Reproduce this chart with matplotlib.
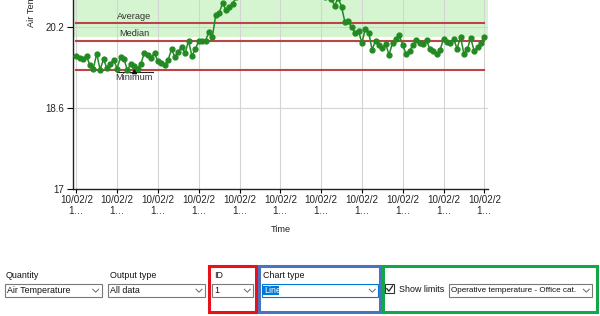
import matplotlib.pyplot as plt
import matplotlib.patches as patches
import numpy as np

plt.rcParams['font.family'] = ['Liberation Sans', 'DejaVu Sans']

# Hourly air temperature readings (values above 20.73 run off the top of the view)
air_temp = [
    19.63, 19.59, 19.56, 19.63, 19.44, 19.38, 19.67, 19.36, 19.56, 19.39,
    19.47, 19.55, 19.38, 19.60, 19.57, 19.35, 19.47, 19.43, 19.38, 19.47,
    19.69, 19.64, 19.59, 19.69, 19.52, 19.48, 19.44, 19.55, 19.76, 19.61,
    19.71, 19.81, 19.68, 19.93, 19.63, 19.76, 19.92, 19.92, 19.93, 20.10,
    20.00, 20.43, 20.47, 20.67, 20.54, 20.59, 20.65,
    20.80, 20.90, 21.00, 21.10, 21.20, 21.15, 21.30, 21.25, 21.40, 21.30,
    21.20, 21.35, 21.30, 21.20, 21.10, 21.25, 21.15, 21.00, 21.10, 21.05,
    20.95, 21.00, 20.90, 20.95, 20.85, 20.90, 20.80, 20.85, 20.75,
    20.62, 20.78, 20.60, 20.30, 20.31, 20.19, 20.09, 20.13, 19.88, 20.17,
    20.09, 19.75, 19.93, 19.85, 19.79, 19.86, 19.65, 19.89, 19.96, 20.04,
    19.84, 19.67, 19.73, 19.84, 19.94, 19.89, 19.86, 19.94, 19.76, 19.72,
    19.67, 19.75, 19.96, 19.90, 19.88, 19.96, 19.77, 20.01, 19.67, 19.76,
    19.98, 19.73, 19.80, 19.89, 20.01,
]
limit_names = ['Average', 'Median', 'Minimum']
limit_values = [20.27, 19.92, 19.35]
comfort_low = 20.0
y_ticks = [17, 18.6, 20.2]
x_tick_labels = ['10/02/2\n1\u2026'] * 11

W, H = 600, 316
fig = plt.figure(figsize=(W / 100, H / 100), dpi=100)

# main chart area in pixel coordinates
left, right, bottom, top = 72.7, 487.7, 189, 0
ax = fig.add_axes([left / W, 1 - bottom / H, (right - left) / W, (bottom - top) / H])

x = np.arange(len(air_temp))
ax.set_xlim(-1.06, 121.0)
ax.set_ylim(17, 20.733)

ax.axhspan(comfort_low, 25, color='#d4f5d0', zorder=0, lw=0)
ax.grid(True, color='#d4d4d4', lw=0.8, zorder=0.5)
ax.set_axisbelow(True)

for name, val in zip(limit_names, limit_values):
    ax.plot([0, 120], [val, val], color='#bb4444', lw=1.5, zorder=2)

ax.text(17, limit_values[0] + 0.055, 'Average', ha='center', va='bottom', fontsize=6.7, color='#333333')
ax.text(17, limit_values[1] + 0.055, 'Median', ha='center', va='bottom', fontsize=6.7, color='#333333')
ax.text(17, limit_values[2] - 0.05, 'Minimum', ha='center', va='top', fontsize=6.7, color='#333333')
ax.plot([12, 22.5], [19.32, 19.32], color='#222222', lw=0.8, zorder=3)
ax.plot([17], [19.34], marker='^', color='#111111', ms=3, zorder=3)

ax.plot(x, air_temp, color='#238a23', lw=1.1, marker='o', ms=3.5, zorder=4)

ax.set_xticks(np.arange(0, 121, 12))
ax.set_xticklabels(x_tick_labels, fontsize=7.1, color='#222222', linespacing=1.1)
ax.set_yticks(y_ticks)
ax.set_yticklabels(['17', '18.6', '20.2'], fontsize=7, color='#222222')
ax.tick_params(axis='y', length=4.5, width=0.8, pad=1.5)
ax.tick_params(axis='x', length=3, width=0.8, pad=1.5)
for s in ['top', 'right']:
    ax.spines[s].set_visible(False)
for s in ['left', 'bottom']:
    ax.spines[s].set_color('#222222')
    ax.spines[s].set_linewidth(1.0)

# overlay in pixel coordinates for labels and the form controls
ui = fig.add_axes([0, 0, 1, 1], zorder=-1)
ui.set_xlim(0, W)
ui.set_ylim(H, 0)
ui.axis('off')

ui.text(31, 27, 'Air Temperature', rotation=90, ha='center', va='bottom', fontsize=6.7, color='#222222')
ui.text(281, 230, 'Time', ha='center', va='center', fontsize=6.7, color='#222222')

fs_ui = 6.4


def combo(x0, x1, text, border='#7a7a7a', chevron=True, fs=fs_ui):
    y0, y1 = 284.3, 296.7
    ui.add_patch(patches.Rectangle((x0, y0), x1 - x0, y1 - y0, fc='white', ec=border, lw=0.8))
    if text:
        ui.text(x0 + 2, (y0 + y1) / 2 + 0.3, text, ha='left', va='center', fontsize=fs, color='#111111')
    if chevron:
        cx = x1 - 6
        ui.plot([cx - 3, cx, cx + 3], [289.2, 292.2, 289.2], color='#666666', lw=0.7)


ui.text(5.7, 275.7, 'Quantity', ha='left', va='center', fontsize=fs_ui, color='#111111')
combo(5, 101.7, 'Air Temperature')
ui.text(110, 275.7, 'Output type', ha='left', va='center', fontsize=fs_ui, color='#111111')
combo(108.3, 205, 'All data')
ui.text(214.3, 275.7, 'ID', ha='left', va='center', fontsize=fs_ui, color='#111111')
combo(212, 253.3, '1')
ui.text(262.7, 275.7, 'Chart type', ha='left', va='center', fontsize=fs_ui, color='#111111')
combo(261.5, 378.3, '', border='#0078d7')
ui.add_patch(patches.Rectangle((263.2, 285.8), 15.5, 9.4, fc='#0078d7', ec='none'))
ui.text(263.8, 290.8, 'Line', ha='left', va='center', fontsize=fs_ui, color='white')

# checkbox
ui.add_patch(patches.Rectangle((385, 284.3), 9, 9, fc='white', ec='#333333', lw=0.8))
ui.plot([386.8, 388.9, 392.6], [288.6, 291.2, 285.9], color='#222222', lw=0.9)
ui.text(399.3, 289, 'Show limits', ha='left', va='center', fontsize=fs_ui, color='#111111')
combo(449, 592.3, 'Operative temperature - Office cat.', fs=5.9)

# highlight frames
ui.add_patch(patches.Rectangle((209.3, 266), 46.7, 46.3, fc='none', ec='#e8101a', lw=2.2))
ui.add_patch(patches.Rectangle((258.7, 266), 121.3, 46.3, fc='none', ec='#4a72c0', lw=2.2))
ui.add_patch(patches.Rectangle((382.7, 266), 214, 46.3, fc='none', ec='#11a84a', lw=2.2))

fig.savefig('out.png', dpi=100, facecolor='white')
